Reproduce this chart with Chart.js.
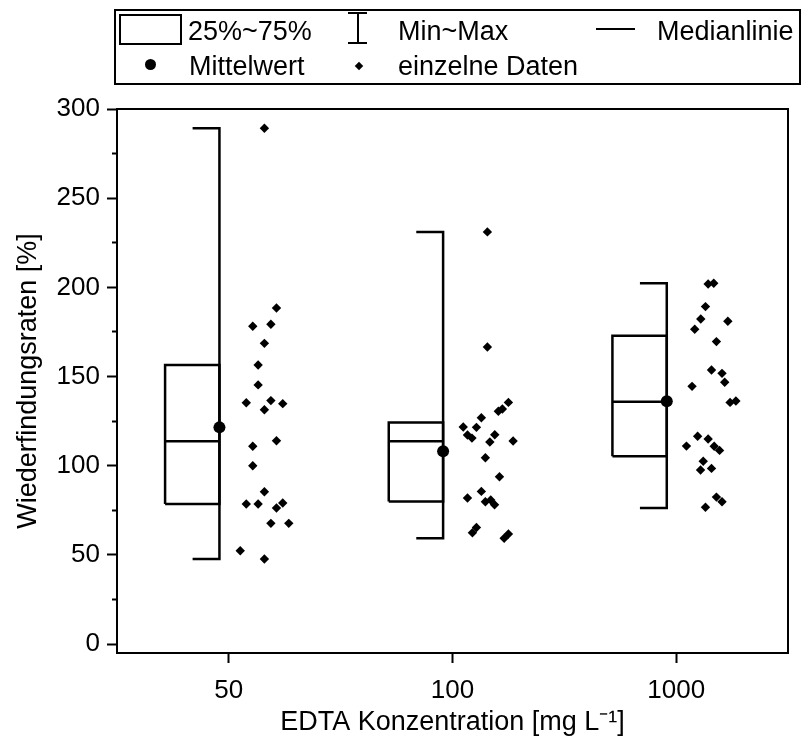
<!DOCTYPE html>
<html lang="de">
<head>
    <meta charset="UTF-8">
    <title>Wiederfindungsraten EDTA</title>
    <script src="https://cdn.jsdelivr.net/npm/chart.js"></script>
    <style>
        body {
            margin: 0;
            background: #fff;
            font-family: "Liberation Sans", Arial, sans-serif;
        }
        #wrap {
            position: relative;
            width: 802px;
            height: 744px;
        }
        #diagramm {
            position: absolute;
            left: 0;
            top: 0;
        }
        .leg {
            position: absolute;
            background: #000;
        }
        .txt {
            position: absolute;
            height: 40px;
            display: flex;
            align-items: center;
            font-size: 27px;
            color: #000;
            white-space: nowrap;
        }
    </style>
</head>
<body>
<div id="wrap">
    <canvas id="diagramm" width="802" height="744"></canvas>

    <!-- Legende -->
    <div style="position:absolute;left:114px;top:9px;width:687px;height:76px;border:2px solid #000;box-sizing:border-box;"></div>
    <div style="position:absolute;left:119px;top:14px;width:63px;height:31px;border:2px solid #000;box-sizing:border-box;"></div>
    <div class="txt" style="left:188px;top:11px;">25%~75%</div>
    <div class="leg" style="left:348px;top:12px;width:19px;height:2px;"></div>
    <div class="leg" style="left:357px;top:12px;width:2px;height:32px;"></div>
    <div class="leg" style="left:348px;top:42px;width:19px;height:2px;"></div>
    <div class="txt" style="left:398px;top:11px;">Min~Max</div>
    <div class="leg" style="left:596px;top:28px;width:39px;height:2px;"></div>
    <div class="txt" style="left:657px;top:11px;">Medianlinie</div>
    <div class="leg" style="left:145px;top:59px;width:11px;height:11px;border-radius:50%;"></div>
    <div class="txt" style="left:189px;top:46px;">Mittelwert</div>
    <div class="leg" style="left:356px;top:63px;width:6px;height:6px;transform:rotate(45deg);"></div>
    <div class="txt" style="left:398px;top:46px;">einzelne Daten</div>
</div>

<script>
    // Kategorien (EDTA Konzentration)
    const kategorien = ['50', '100', '1000'];

    // Boxplot-Kennwerte
    const minimum = [47.7, 59.3, 76.3];
    const quartil1 = [78.5, 80.0, 105.3];
    const median = [113.7, 113.7, 135.9];
    const quartil3 = [156.5, 124.3, 172.9];
    const maximum = [289.2, 231.1, 202.3];
    const mittelwert = [121.5, 108.1, 136.2];

    // einzelne Daten [%]
    const daten50 = [289.2, 188.4, 178.2, 179.3, 168.6, 156.5, 145.3, 135.3, 136.5, 131.4, 134.8, 114.0,
        110.9, 100.0, 85.4, 78.5, 78.5, 79.1, 76.3, 67.7, 67.7, 52.3, 47.7];
    const daten100 = [231.1, 166.6, 135.5, 131.8, 130.5, 126.9, 121.7, 121.5, 117.2, 115.5, 117.4, 113.3,
        113.9, 104.5, 93.8, 85.6, 81.9, 79.8, 80.8, 78.1, 65.4, 62.4, 61.7, 59.3];
    const daten1000 = [201.9, 202.3, 189.2, 182.3, 181.0, 176.5, 169.6, 153.7, 151.8, 146.8, 144.5, 135.5,
        136.3, 116.5, 115.0, 111.0, 110.9, 108.6, 102.5, 98.5, 97.6, 82.4, 79.8, 76.7];

    // horizontale Streuung der einzelnen Daten (Versatz zur Kategorie)
    const streuung50 = [0.159, 0.213, 0.107, 0.188, 0.159, 0.131, 0.131, 0.078, 0.188, 0.159, 0.241, 0.213,
        0.107, 0.107, 0.159, 0.078, 0.131, 0.241, 0.213, 0.188, 0.268, 0.051, 0.159];
    const streuung100 = [0.156, 0.156, 0.250, 0.223, 0.205, 0.129, 0.048, 0.107, 0.067, 0.087, 0.189, 0.167,
        0.271, 0.147, 0.210, 0.129, 0.067, 0.147, 0.171, 0.188, 0.107, 0.089, 0.250, 0.231];
    const streuung1000 = [0.143, 0.168, 0.131, 0.110, 0.231, 0.083, 0.180, 0.158, 0.205, 0.217, 0.071, 0.241,
        0.267, 0.096, 0.143, 0.046, 0.170, 0.194, 0.121, 0.158, 0.109, 0.180, 0.205, 0.131];

    const yTicks = [0, 25, 50, 75, 100, 125, 150, 175, 200, 225, 250, 275, 300];

    const alleDaten = [daten50, daten100, daten1000];
    const alleStreuung = [streuung50, streuung100, streuung1000];

    // Lage der Box relativ zur Kategorie
    const boxLinks = -0.285;
    const boxRechts = -0.042;
    const kappeLinks = -0.162;

    const schrift = { family: '"Liberation Sans", Arial, sans-serif', size: 26 };
    const linie = { showLine: true, borderColor: '#000', borderWidth: 2.5, pointRadius: 0, fill: false, tension: 0, borderJoinStyle: 'miter' };

    const datasets = [];
    kategorien.forEach((k, i) => {
        datasets.push({ ...linie, data: [
            { x: i + boxLinks, y: quartil1[i] }, { x: i + boxRechts, y: quartil1[i] },
            { x: i + boxRechts, y: quartil3[i] }, { x: i + boxLinks, y: quartil3[i] },
            { x: i + boxLinks, y: quartil1[i] }] });
        datasets.push({ ...linie, data: [{ x: i + boxLinks, y: median[i] }, { x: i + boxRechts, y: median[i] }] });
        datasets.push({ ...linie, data: [
            { x: i + kappeLinks, y: maximum[i] }, { x: i + boxRechts, y: maximum[i] },
            { x: i + boxRechts, y: minimum[i] }, { x: i + kappeLinks, y: minimum[i] }] });
    });
    datasets.push({
        data: mittelwert.map((m, i) => ({ x: i + boxRechts, y: m })),
        pointStyle: 'circle', pointRadius: 6, backgroundColor: '#000', borderWidth: 0
    });
    alleDaten.forEach((werte, i) => {
        datasets.push({
            data: werte.map((v, j) => ({ x: i + alleStreuung[i][j], y: v })),
            pointStyle: 'rectRot', pointRadius: 4.7, backgroundColor: '#000', borderWidth: 0
        });
    });

    // Rahmen um den Plotbereich
    const rahmen = {
        id: 'rahmen',
        afterDatasetsDraw(chart) {
            const { ctx, chartArea: a } = chart;
            ctx.save();
            ctx.strokeStyle = '#000';
            ctx.lineWidth = 2;
            ctx.strokeRect(a.left, a.top, a.right - a.left, a.bottom - a.top);
            ctx.restore();
        }
    };

    new Chart(document.getElementById('diagramm'), {
        type: 'scatter',
        data: { datasets },
        options: {
            responsive: false,
            animation: false,
            layout: { padding: { left: 0, top: 109, right: 14, bottom: 0 } },
            plugins: { legend: { display: false }, tooltip: { enabled: false } },
            scales: {
                x: {
                    type: 'linear', min: -0.5, max: 2.5,
                    afterBuildTicks: s => { s.ticks = kategorien.map((k, i) => ({ value: i })); },
                    afterFit: s => { s.height = 91; },
                    ticks: { callback: v => kategorien[v], color: '#000', font: schrift, padding: 12, maxRotation: 0 },
                    grid: { drawOnChartArea: false, tickLength: 10, tickWidth: 2, tickColor: '#000' },
                    border: { color: '#000', width: 2 },
                    title: { display: true, text: 'EDTA Konzentration [mg L⁻¹]', color: '#000', font: { ...schrift, size: 27 }, padding: { top: 0, bottom: 5 } }
                },
                y: {
                    min: -5, max: 300,
                    afterBuildTicks: s => { s.ticks = yTicks.filter(t => t % 50 === 0).map(t => ({ value: t })); },
                    afterFit: s => { s.width = 117; },
                    ticks: { color: '#000', font: schrift, padding: 7 },
                    grid: { drawOnChartArea: false, tickLength: 10, tickWidth: 2, tickColor: '#000' },
                    border: { color: '#000', width: 2 },
                    title: { display: true, text: 'Wiederfindungsraten [%]', color: '#000', font: { ...schrift, size: 27 }, padding: { top: 12, bottom: 0 } }
                },
                yNeben: {
                    position: { x: -0.5 },
                    min: -5, max: 300,
                    afterBuildTicks: s => { s.ticks = yTicks.filter(t => t % 50 !== 0).map(t => ({ value: t })); },
                    ticks: { display: false },
                    grid: { drawOnChartArea: false, tickLength: 5, tickWidth: 2, tickColor: '#000' },
                    border: { display: false }
                }
            }
        },
        plugins: [rahmen]
    });
</script>
</body>
</html>
